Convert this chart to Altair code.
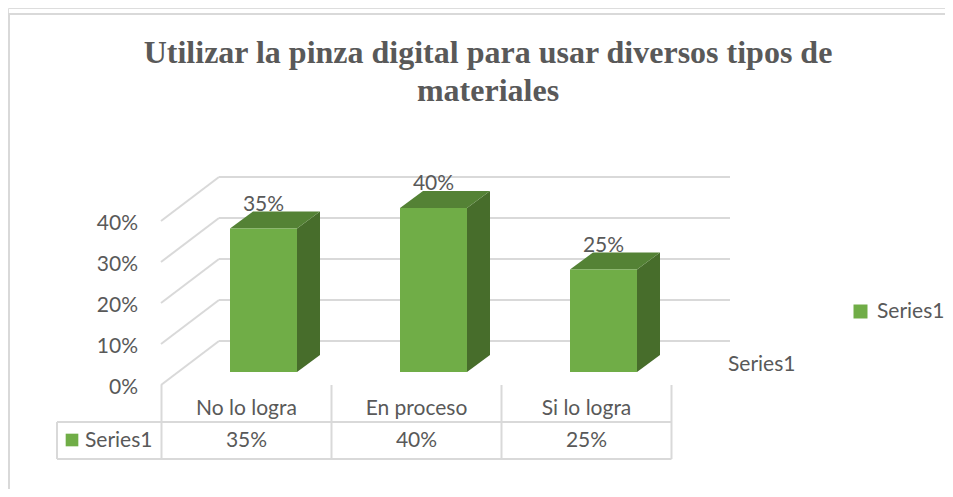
import altair as alt
import pandas as pd

# ---- data ----
categorias = ["No lo logra", "En proceso", "Si lo logra"]
valores = [0.35, 0.40, 0.25]
etiquetas = ["35%", "40%", "25%"]
serie = "Series1"
ticks_y = [0.0, 0.1, 0.2, 0.3, 0.4]
titulo = ["Utilizar la pinza digital para usar diversos tipos de", "materiales"]

# ---- layout constants (pixels / scale geometry) ----
W, H = 937, 481
X_DOMAIN = [-255.5 / 170, (W - 255.5) / 170]
Y_DOMAIN = [(364 - H) / 410, 364 / 410]
HW = 33.5 / 170          # half width of bar front face (index units)
DX = 23 / 170            # depth shift in x (index units)
DY = 17 / 410            # depth shift in y (value units)

TXT = "#595959"
GRID = "#d9d9d9"
FRONT = "#70ad47"
TOP = "#548235"
SIDE = "#476d2b"
FONT = "Lato"

xs = alt.Scale(domain=X_DOMAIN, nice=False, zero=False)
ys = alt.Scale(domain=Y_DOMAIN, nice=False, zero=False)

idx = list(range(len(categorias)))
base = pd.DataFrame({"cat": categorias, "v": valores, "lab": etiquetas, "i": idx, "serie": serie})

# faces derived from the values
side_rows, top_rows = [], []
for i, c, v in zip(idx, categorias, valores):
    L, R = i - HW, i + HW
    side_rows += [{"cat": c, "x": R, "lo": 0.0, "hi": v},
                  {"cat": c, "x": R + DX, "lo": DY, "hi": v + DY}]
    top_rows += [{"cat": c, "x": L, "lo": v, "hi": v},
                 {"cat": c, "x": L + DX, "lo": v, "hi": v + DY},
                 {"cat": c, "x": R, "lo": v, "hi": v + DY},
                 {"cat": c, "x": R + DX, "lo": v + DY, "hi": v + DY}]
sides = pd.DataFrame(side_rows)
tops = pd.DataFrame(top_rows)
ticks = pd.DataFrame({"t": ticks_y})
bounds = pd.DataFrame({"b": [i - 0.6 for i in idx] + [idx[-1] + 0.4]})
one = pd.DataFrame({"k": [0]})

# back wall gridlines
back = alt.Chart(ticks).mark_rule(color=GRID, strokeWidth=2, yOffset=-31).encode(
    y=alt.Y("t:Q", scale=ys, axis=None), x=alt.value(211), x2=alt.value(722))
diag = alt.Chart(ticks).mark_rule(color=GRID, strokeWidth=2, yOffset=13, y2Offset=-31).encode(
    y=alt.Y("t:Q", scale=ys, axis=None), y2="t:Q", x=alt.value(153), x2=alt.value(211))
ylabels = alt.Chart(ticks).mark_text(align="right", baseline="alphabetic", dy=22,
                                     font=FONT, fontSize=21, color=TXT).encode(
    y=alt.Y("t:Q", scale=ys, axis=None), x=alt.value(130), text=alt.Text("t:Q", format=".0%"))

side = alt.Chart(sides).mark_area(color=SIDE, orient="vertical", interpolate="linear").encode(
    x=alt.X("x:Q", scale=xs, axis=None), y=alt.Y("lo:Q", scale=ys, axis=None), y2="hi:Q", detail="cat:N")
top = alt.Chart(tops).mark_area(color=TOP, orient="vertical", interpolate="linear").encode(
    x=alt.X("x:Q", scale=xs, axis=None), y=alt.Y("lo:Q", scale=ys, axis=None), y2="hi:Q", detail="cat:N")
front = alt.Chart(base).transform_calculate(
    x1=f"datum.i - {HW}", x2=f"datum.i + {HW}", y0="0"
).mark_rect().encode(
    x=alt.X("x1:Q", scale=xs, axis=None), x2="x2:Q",
    y=alt.Y("y0:Q", scale=ys, axis=None), y2="v:Q",
    color=alt.Color("serie:N", scale=alt.Scale(range=[FRONT]),
                    legend=alt.Legend(orient="none", legendX=842, legendY=293, title=None,
                                      symbolType="square", symbolSize=196, symbolStrokeWidth=0,
                                      labelFont=FONT, labelFontSize=21, labelColor=TXT,
                                      padding=0, labelOffset=6)))
vlabels = alt.Chart(base).mark_text(baseline="alphabetic", dy=-18, font=FONT, fontSize=21, color=TXT).encode(
    x=alt.X("i:Q", scale=xs, axis=None), y=alt.Y("v:Q", scale=ys, axis=None), text="lab:N")

# data table under the chart
tcol = alt.Chart(bounds).mark_rule(color=GRID, strokeWidth=2).encode(
    x=alt.X("b:Q", scale=xs, axis=None), y=alt.value(377), y2=alt.value(451))
trow = alt.Chart(pd.DataFrame({"r": [414, 451]})).mark_rule(color=GRID, strokeWidth=2).encode(
    y=alt.Y("r:Q", scale=None), x=alt.value(49), x2=alt.value(663.5))
tleft = alt.Chart(one).mark_rule(color=GRID, strokeWidth=2).encode(
    x=alt.value(49), y=alt.value(414), y2=alt.value(451))
tcat = alt.Chart(base).transform_calculate(xc="datum.i - 0.1").mark_text(
    baseline="alphabetic", font=FONT, fontSize=21, color=TXT).encode(
    x=alt.X("xc:Q", scale=xs, axis=None), y=alt.value(407), text="cat:N")
tval = alt.Chart(base).transform_calculate(xc="datum.i - 0.1").mark_text(
    baseline="alphabetic", font=FONT, fontSize=21, color=TXT).encode(
    x=alt.X("xc:Q", scale=xs, axis=None), y=alt.value(439), text="lab:N")
tkey = alt.Chart(one).mark_square(size=160, color=FRONT, opacity=1).encode(
    x=alt.value(64), y=alt.value(432))
tser = alt.Chart(one).mark_text(text=serie, align="left", baseline="alphabetic",
                                font=FONT, fontSize=21, color=TXT).encode(
    x=alt.value(77), y=alt.value(439))

depth = alt.Chart(one).mark_text(text=serie, align="left", baseline="alphabetic",
                                 font=FONT, fontSize=21, color=TXT).encode(
    x=alt.value(720), y=alt.value(363))

title = alt.Chart(one).mark_text(text=titulo, align="center", baseline="alphabetic", lineHeight=38,
                                 font="Liberation Serif", fontSize=32, fontWeight="bold", color=TXT).encode(
    x=alt.value(480), y=alt.value(55))

border_top = alt.Chart(one).mark_rule(color=GRID, strokeWidth=2).encode(
    y=alt.value(6), x=alt.value(0), x2=alt.value(W))
border_left = alt.Chart(one).mark_rule(color=GRID, strokeWidth=2).encode(
    x=alt.value(1), y=alt.value(6), y2=alt.value(H))

chart = alt.layer(
    border_top, border_left, back, diag, ylabels, side, top, front, vlabels,
    tcol, trow, tleft, tcat, tval, tkey, tser, depth, title
).properties(
    width=W, height=H, autosize=alt.AutoSizeParams(type="none"), padding=0
).configure_view(stroke=None).configure(background="white")

chart.save("out.html", embed_options={"renderer": "svg", "actions": False})
